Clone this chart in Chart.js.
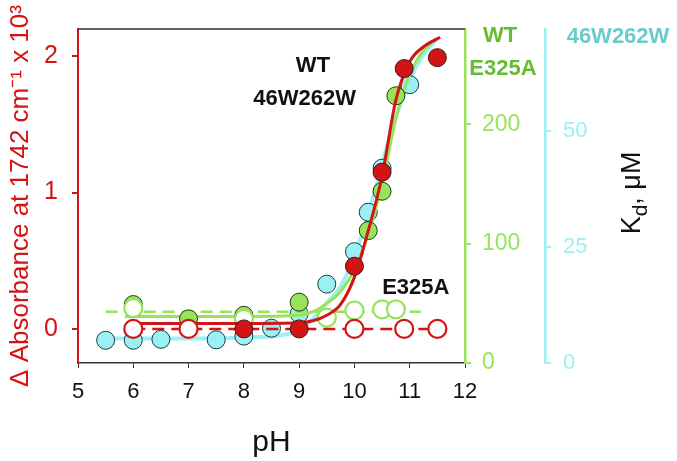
<!DOCTYPE html>
<html>
<head>
<meta charset="utf-8">
<script src="https://cdn.jsdelivr.net/npm/chart.js"></script>
<style>
  html, body { margin: 0; padding: 0; background: #fff; }
  canvas { display: block; }
</style>
</head>
<body>
<canvas id="kdChart" width="677" height="461"></canvas>
<script>
// delta absorbance at 1742 cm-1 (x 10^3), left axis
const wtAbsPH = [8, 9, 10, 10.5, 10.9, 11.5];
const wtAbs = [0, 0, 0.46, 1.15, 1.91, 1.99];
const e325aAbsPH = [6, 7, 10, 10.9, 11.5];
const e325aAbs = [0, 0, 0, 0, 0];
// fitted curves
const wtAbsFitPH = [5.9, 7, 8, 9, 9.25, 9.5, 9.75, 10, 10.25, 10.5, 10.75, 11, 11.25, 11.55];
const wtAbsFit = [0.04, 0.04, 0.04, 0.045, 0.06, 0.1, 0.18, 0.38, 0.72, 1.12, 1.68, 1.96, 2.07, 2.14];
const e325aAbsFitPH = [6, 11.5];
const e325aAbsFit = [0, 0];

// Kd (uM), green axis: WT and E325A
const wtKdPH = [6, 7, 8, 9, 10.25, 10.5, 10.75];
const wtKd = [49, 37, 40, 51, 111, 144, 224];
const e325aKdPH = [6, 8, 9.5, 10, 10.5, 10.75];
const e325aKd = [46, 37, 38, 44, 45, 45];
const wtKdFitPH = [5.85, 7, 8, 9, 9.25, 9.5, 9.75, 10, 10.25, 10.5, 10.75, 11, 11.25, 11.5];
const wtKdFit = [39, 39, 39, 40, 43, 50, 60, 78, 108, 150, 205, 242, 262, 272];
const e325aKdFitPH = [5.5, 11.2];
const e325aKdFit = [43, 43];

// Kd (uM), cyan axis: 46W262W
const dblKdPH = [5.5, 6, 6.5, 7.5, 8, 8.5, 9, 9.5, 10, 10.25, 10.5, 11];
const dblKd = [4.9, 4.9, 5.1, 5.0, 5.8, 7.5, 10.6, 17, 24, 32.5, 42, 60];
const dblKdFitPH = [5.5, 7, 8, 9, 9.25, 9.5, 9.75, 10, 10.25, 10.5, 10.75, 11, 11.25, 11.5];
const dblKdFit = [5.3, 5.3, 5.5, 7, 9.5, 13, 16.5, 23, 32, 43, 53, 61, 66.5, 70];

const xTicks = [5, 6, 7, 8, 9, 10, 11, 12];

const RED = '#d41414';
const GREEN = '#98e35a';
const GREEN_DARK = '#66bb33';
const CYAN = '#9af0f4';
const CYAN_DARK = '#6ccaca';
const FONT = "'Liberation Sans', Arial, sans-serif";

function pts(xs, ys) {
  return xs.map((x, i) => ({ x: x, y: ys[i] }));
}

function marks(xs, ys, axis, fill, edge, width) {
  return {
    data: pts(xs, ys), yAxisID: axis, showLine: false,
    pointRadius: 9, pointBackgroundColor: fill, pointBorderColor: edge,
    pointBorderWidth: width, clip: false
  };
}

function curve(xs, ys, axis, color, width, dash) {
  return {
    data: pts(xs, ys), yAxisID: axis, showLine: true, pointRadius: 0,
    borderColor: color, borderWidth: width, borderDash: dash || [],
    cubicInterpolationMode: 'monotone', fill: false, clip: false
  };
}

const labels = {
  id: 'labels',
  afterDraw(chart) {
    const { ctx, chartArea, scales } = chart;
    const x = scales.x, y = scales.y;
    ctx.save();
    // top frame
    ctx.strokeStyle = '#333';
    ctx.lineWidth = 1.5;
    ctx.beginPath();
    ctx.moveTo(chartArea.left, chartArea.top);
    ctx.lineTo(chartArea.right, chartArea.top);
    ctx.stroke();

    ctx.textAlign = 'center';
    ctx.textBaseline = 'middle';
    ctx.font = 'bold 22px ' + FONT;
    ctx.fillStyle = '#111';
    ctx.fillText('WT', x.getPixelForValue(9.25), y.getPixelForValue(1.93));
    ctx.fillText('46W262W', x.getPixelForValue(9.1), y.getPixelForValue(1.69));
    ctx.fillText('E325A', x.getPixelForValue(11.11), y.getPixelForValue(0.3));

    const g = scales.yG.left, c = scales.yC.left;
    ctx.fillStyle = GREEN_DARK;
    ctx.fillText('WT', g + 35, 36);
    ctx.fillText('E325A', g + 38, 69);
    ctx.fillStyle = CYAN_DARK;
    ctx.fillText('46W262W', c + 73, 37);

    // Kd, uM title on the far right, reading upwards
    ctx.translate(640, 193);
    ctx.rotate(-Math.PI / 2);
    ctx.fillStyle = '#111';
    ctx.textAlign = 'left';
    ctx.textBaseline = 'alphabetic';
    const big = '27px ' + FONT, small = '21px ' + FONT;
    ctx.font = big;
    const wK = ctx.measureText('K').width;
    const wRest = ctx.measureText(', \u03bcM').width;
    ctx.font = small;
    const wd = ctx.measureText('d').width;
    let px = -(wK + wd + wRest) / 2;
    ctx.font = big;
    ctx.fillText('K', px, 0);
    px += wK;
    ctx.font = small;
    ctx.fillText('d', px, 7);
    px += wd;
    ctx.font = big;
    ctx.fillText(', \u03bcM', px, 0);
    ctx.restore();
  }
};

new Chart(document.getElementById('kdChart'), {
  type: 'scatter',
  data: {
    datasets: [
      marks(wtAbsPH, wtAbs, 'y', RED, '#3a1a1a', 1),
      marks(e325aAbsPH, e325aAbs, 'y', '#fff', RED, 2.2),
      curve(wtAbsFitPH, wtAbsFit, 'y', RED, 3),
      curve(e325aAbsFitPH, e325aAbsFit, 'y', RED, 2.5, [12, 7]),
      marks(e325aKdPH, e325aKd, 'yG', '#fff', GREEN, 2.2),
      marks(wtKdPH, wtKd, 'yG', GREEN, '#1e3a10', 1),
      curve(wtKdFitPH, wtKdFit, 'yG', GREEN, 3),
      curve(e325aKdFitPH, e325aKdFit, 'yG', GREEN, 2.5, [12, 7]),
      marks(dblKdPH, dblKd, 'yC', CYAN, '#1d3a3a', 1),
      curve(dblKdFitPH, dblKdFit, 'yC', CYAN, 4)
    ]
  },
  options: {
    responsive: false,
    animation: false,
    devicePixelRatio: 1,
    layout: { padding: { top: 25, left: 0, right: 0, bottom: 0 } },
    plugins: { legend: { display: false }, tooltip: { enabled: false } },
    scales: {
      x: {
        type: 'linear', min: 5, max: 12,
        afterBuildTicks: s => { s.ticks = xTicks.map(v => ({ value: v })); },
        ticks: { color: '#111', font: { family: FONT, size: 22 }, padding: 11 },
        grid: { drawOnChartArea: false, tickLength: 5, color: '#333' },
        border: { color: '#333', width: 1.5 },
        title: { display: true, text: 'pH', color: '#111', font: { family: FONT, size: 30 }, padding: { top: 0, bottom: 0 } },
        afterFit: s => { s.height = 98; }
      },
      y: {
        position: 'left', min: -0.25, max: 2.2,
        ticks: { stepSize: 1, includeBounds: false, color: RED, font: { family: FONT, size: 25 }, padding: 14 },
        grid: { drawOnChartArea: false, tickLength: 6, color: RED, lineWidth: 2 },
        border: { color: RED, width: 2 },
        title: { display: true, text: '\u0394 Absorbance at 1742 cm\u207b\u00b9 x 10\u00b3', color: RED, font: { family: FONT, size: 26 }, padding: { top: 5, bottom: 0 } },
        afterFit: s => { s.width = 78; }
      },
      yG: {
        position: 'right', min: 0, max: 280,
        ticks: { stepSize: 100, includeBounds: false, color: GREEN, font: { family: FONT, size: 23 }, padding: 11 },
        grid: { drawOnChartArea: false, tickLength: 6, color: GREEN, lineWidth: 2 },
        border: { color: GREEN, width: 2.5 },
        afterFit: s => { s.width = 80; }
      },
      yC: {
        position: 'right', min: 0, max: 72,
        ticks: { stepSize: 25, includeBounds: false, color: CYAN, font: { family: FONT, size: 22 }, padding: 12 },
        grid: { drawOnChartArea: false, tickLength: 6, color: CYAN, lineWidth: 2 },
        border: { color: CYAN, width: 2.5 },
        afterFit: s => { s.width = 132; }
      }
    }
  },
  plugins: [labels]
});
</script>
</body>
</html>
